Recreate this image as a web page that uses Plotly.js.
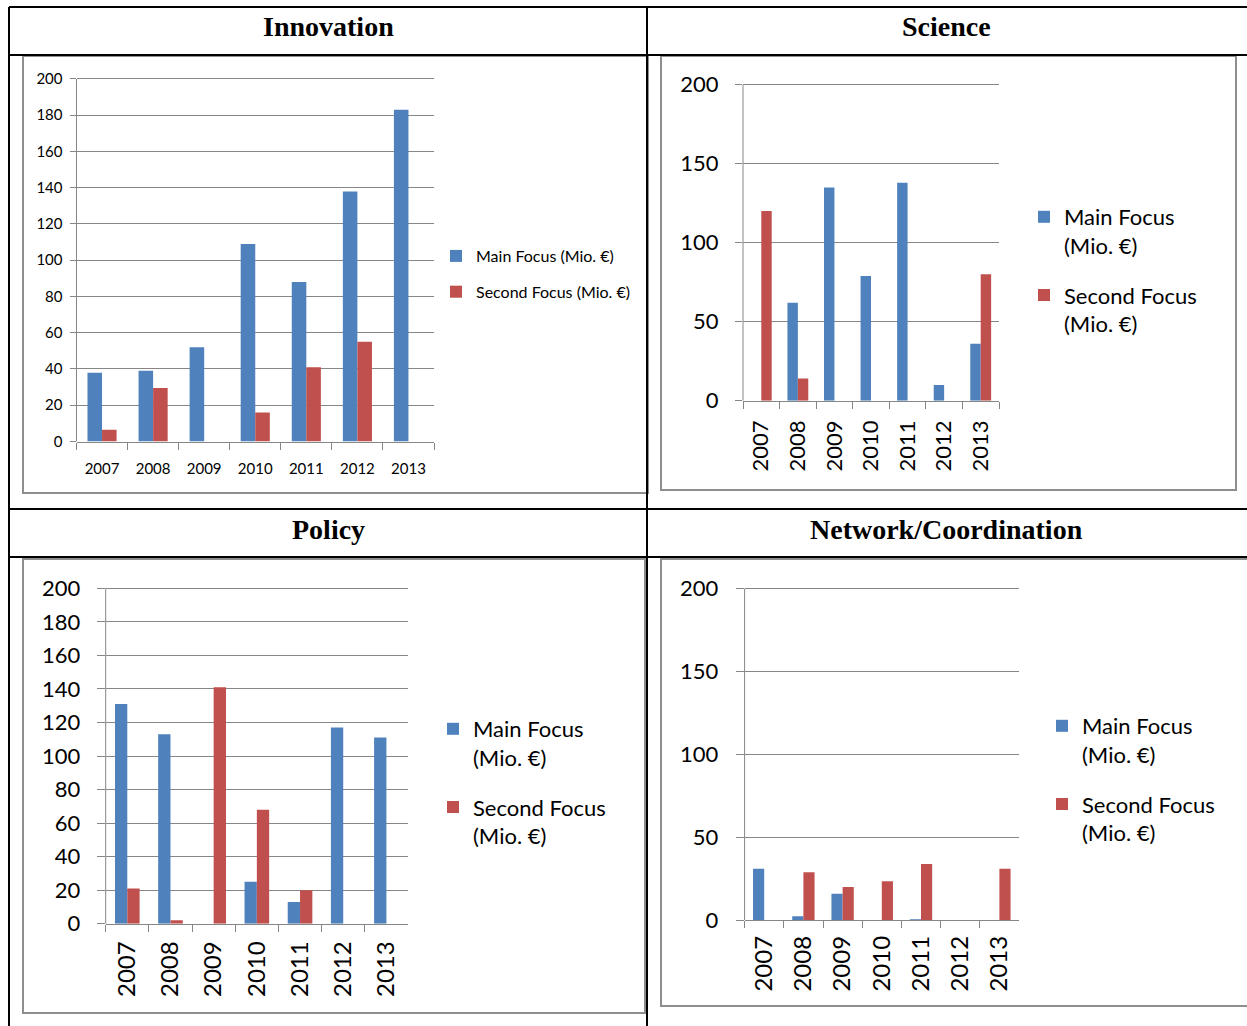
<!DOCTYPE html>
<html>
<head>
<meta charset="utf-8">
<script src="https://cdn.plot.ly/plotly-3.0.1.min.js"></script>
<style>
html,body{margin:0;padding:0;background:#fff;}
#chart{width:1247px;height:1026px;}
</style>
</head>
<body>
<div id="chart"></div>
<script>
// ---- data ----
const years = ['2007','2008','2009','2010','2011','2012','2013'];
const panelTitles = ['Innovation','Science','Policy','Network/Coordination'];
const seriesNames = ['Main Focus (Mio. €)','Second Focus (Mio. €)'];

const innovationMain   = [38, 39, 52, 109, 88, 138, 183];
const innovationSecond = [6.5, 29.5, 0, 16, 41, 55, 0];

const scienceMain   = [0, 62, 135, 79, 138, 10, 36];
const scienceSecond = [120, 14, 0, 0, 0, 0, 80];

const policyMain   = [131, 113, 0, 25, 13, 117, 111];
const policySecond = [21, 2, 141, 68, 20, 0, 0];

const networkMain   = [31, 2.4, 16, 0, 0.6, 0, 0];
const networkSecond = [0, 29, 20, 23.5, 34, 0, 31];

// ---- helpers ----
const W = 1247, H = 1026;
const px = x => x / W;
const py = y => 1 - y / H;
const BLUE = '#4F81BD', RED = '#C0504D', GRID = '#868686';
const YMAX = 200, YTOPPAD = 201;

const panels = [
  {main: innovationMain, second: innovationSecond, dtick: 20,
   x0: 76.5, x1: 434, yZero: 441.5, yTop: 79, yfs: 15, xfs: 15, tickangle: 0, ticklen: 6,
   ystand: 4, xstand: 13,
   legend: {x: 436, y: 239, fs: 16, gap: 12, wrap: false}},
  {main: scienceMain, second: scienceSecond, dtick: 50,
   x0: 743, x1: 999, yZero: 400.7, yTop: 84.7, yfs: 22, xfs: 22, tickangle: -90, ticklen: 7,
   ystand: 12, xstand: 10,
   legend: {x: 1024, y: 196, fs: 22, gap: 18, wrap: true}},
  {main: policyMain, second: policySecond, dtick: 20,
   x0: 105.7, x1: 408, yZero: 923.7, yTop: 588.3, yfs: 22, xfs: 24, tickangle: -90, ticklen: 8,
   ystand: 12, xstand: 7,
   legend: {x: 433, y: 708, fs: 22, gap: 18, wrap: true}},
  {main: networkMain, second: networkSecond, dtick: 50,
   x0: 744.6, x1: 1019, yZero: 920.3, yTop: 588.5, yfs: 22, xfs: 24, tickangle: -90, ticklen: 8,
   ystand: 13, xstand: 5,
   legend: {x: 1042, y: 705, fs: 22, gap: 18, wrap: true}}
];

const FONT = 'Lato, "Open Sans", "Noto Sans", sans-serif';
const traces = [];
const layout = {
  width: W, height: H,
  margin: {l: 0, r: 0, t: 0, b: 0},
  paper_bgcolor: '#fff', plot_bgcolor: 'rgba(0,0,0,0)',
  barmode: 'group', bargap: 0.43, bargroupgap: 0,
  showlegend: true,
  font: {family: FONT, color: '#000'},
  shapes: [], annotations: []
};

panels.forEach((p, i) => {
  const n = i + 1;
  const xa = n === 1 ? 'x' : 'x' + n;
  const ya = n === 1 ? 'y' : 'y' + n;
  const lg = n === 1 ? 'legend' : 'legend' + n;
  const nm = p.legend.wrap ? seriesNames.map(s => s.replace(' (', '<br>(')) : seriesNames;
  traces.push({type: 'bar', x: years, y: p.main, name: nm[0], marker: {color: BLUE},
               xaxis: xa, yaxis: ya, legend: lg, legendgroup: 'm' + n, hoverinfo: 'y'});
  traces.push({type: 'bar', x: years, y: p.second, name: nm[1], marker: {color: RED},
               xaxis: xa, yaxis: ya, legend: lg, legendgroup: 's' + n, hoverinfo: 'y'});
  const xKey = n === 1 ? 'xaxis' : 'xaxis' + n;
  const yKey = n === 1 ? 'yaxis' : 'yaxis' + n;
  // extend range slightly so the 200 gridline is drawn, keeping 200 at yTop
  const topPx = p.yZero - (p.yZero - p.yTop) * YTOPPAD / YMAX;
  layout[xKey] = {
    domain: [px(p.x0), px(p.x1)], anchor: ya, type: 'category',
    showline: true, linecolor: GRID, linewidth: 1,
    ticks: 'outside', tickson: 'boundaries', ticklen: 7, tickcolor: GRID, tickwidth: 1,
    tickangle: p.tickangle, tickfont: {family: FONT, size: p.xfs, color: '#000'},
    ticklabelstandoff: p.xstand,
    showgrid: false, fixedrange: true
  };
  layout[yKey] = {
    domain: [py(p.yZero), py(topPx)], anchor: xa, range: [0, YTOPPAD],
    tickvals: [0, 1, 2, 3, 4, 5, 6, 7, 8, 9, 10].map(k => k * p.dtick).filter(v => v <= YMAX),
    showline: false,
    ticks: 'outside', ticklen: p.ticklen, tickcolor: GRID, tickwidth: 1,
    showgrid: true, gridcolor: GRID, gridwidth: 1, zeroline: false,
    tickfont: {family: FONT, size: p.yfs, color: '#000'},
    ticklabelstandoff: p.ystand,
    fixedrange: true
  };
  // y axis line from 0 to 200 only
  layout.shapes.push({type: 'line', xref: xa + ' domain', yref: ya,
    x0: 0, x1: 0, y0: 0, y1: YMAX, line: {color: GRID, width: 1}, layer: 'above'});
  layout[lg] = {
    x: px(p.legend.x), y: py(p.legend.y), xanchor: 'left', yanchor: 'top',
    font: {family: FONT, size: p.legend.fs, color: '#000'},
    bgcolor: 'rgba(0,0,0,0)', borderwidth: 0,
    valign: 'top', tracegroupgap: p.legend.gap, traceorder: 'grouped',
    itemclick: false, itemdoubleclick: false
  };
});

// table lines (black) and chart frames (grey)
const line = (x0, y0, x1, y1, c, w) => ({type: 'line', xref: 'paper', yref: 'paper',
  x0: px(x0), y0: py(y0), x1: px(x1), y1: py(y1), line: {color: c, width: w}, layer: 'above'});
const rect = (x0, y0, x1, y1) => ({type: 'rect', xref: 'paper', yref: 'paper',
  x0: px(x0), y0: py(y0), x1: px(x1), y1: py(y1), line: {color: '#8e8e8e', width: 2},
  fillcolor: 'rgba(0,0,0,0)', layer: 'below'});

layout.shapes.push(
  rect(23, 56, 648, 493),
  rect(661, 56, 1236, 490),
  rect(23, 559, 645, 1013),
  rect(661, 559, 1252, 1006),
  line(9, 7, 1247, 7, '#000', 2),
  line(9, 7, 9, 1026, '#000', 2),
  line(647, 7, 647, 1026, '#000', 2),
  line(9, 55, 1247, 55, '#000', 2),
  line(9, 509, 1247, 509, '#000', 2),
  line(9, 557, 1247, 557, '#000', 2)
);

const titlePos = [[328, 26], [947, 26], [328, 529], [947, 529]];
panelTitles.forEach((t, i) => {
  layout.annotations.push({text: '<b>' + t + '</b>', xref: 'paper', yref: 'paper',
    x: px(titlePos[i][0]), y: py(titlePos[i][1]), xanchor: 'center', yanchor: 'middle',
    showarrow: false, font: {family: '"Liberation Serif", "Times New Roman", serif', size: 28, color: '#000'}});
});

Plotly.newPlot('chart', traces, layout, {displayModeBar: false, staticPlot: true});
</script>
</body>
</html>
